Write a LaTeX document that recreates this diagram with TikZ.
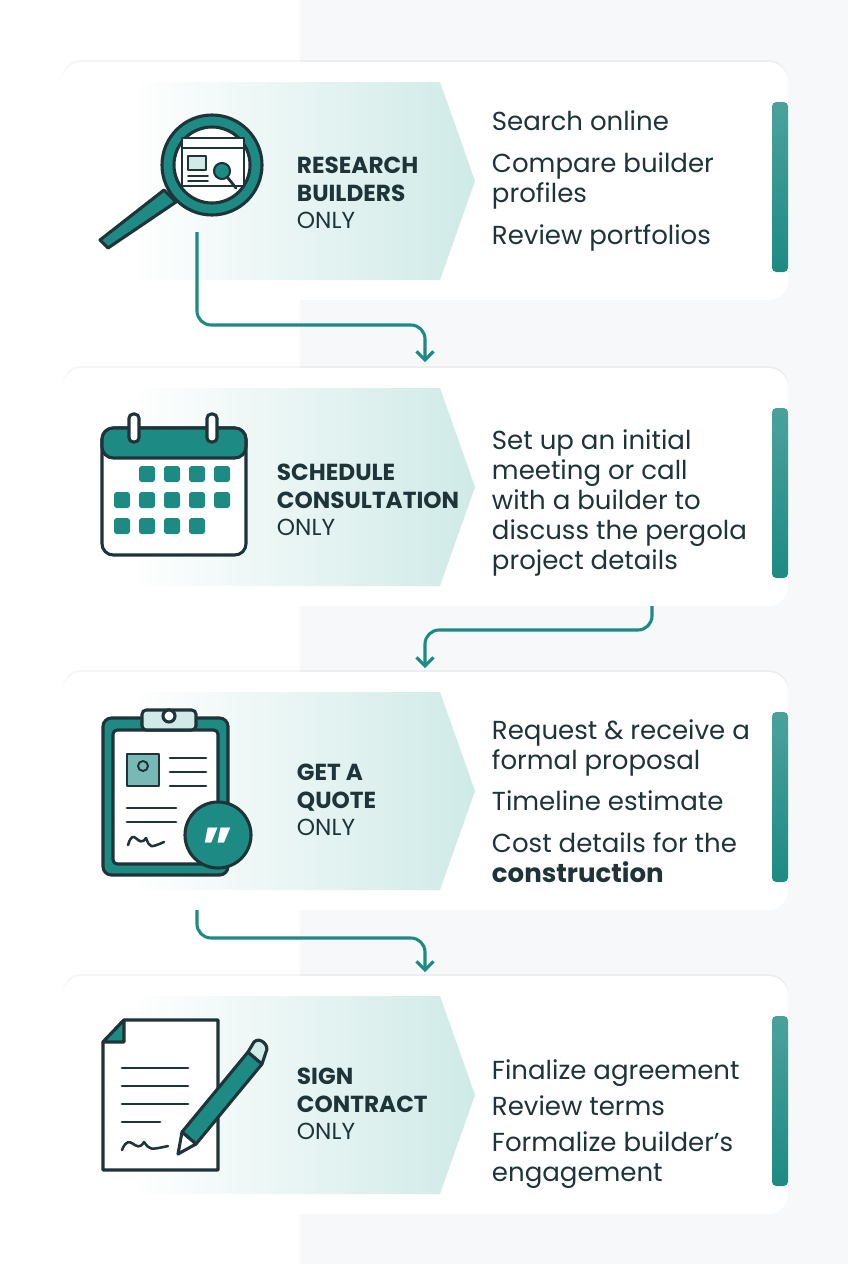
\documentclass[tikz,border=0pt]{standalone}
\usepackage{fontspec}
\setmainfont{Poppins}
\usepackage{xcolor}
\usetikzlibrary{positioning,calc,arrows.meta,shadows}
\definecolor{tealD}{HTML}{1E8A84}
\definecolor{tealL}{HTML}{CFEAE7}
\definecolor{ink}{HTML}{1E3438}
\definecolor{bgR}{HTML}{F6F8F9}
\tikzset{
  card/.style={fill=white, rounded corners=14, drop shadow={opacity=0.08, shadow xshift=0, shadow yshift=-2}},
  chev/.style={left color=white, right color=tealL, draw=none},
  bar/.style={top color=tealD!80, bottom color=tealD, rounded corners=3},
  title/.style={anchor=west, align=left, font=\fontsize{16.5}{19.5}\selectfont, text=ink},
  items/.style={anchor=west, align=left, font=\fontsize{18.5}{21.5}\selectfont, text=ink},
  flow/.style={draw=tealD, line width=2.2pt, rounded corners=10, -{Straight Barb[length=6pt,width=12pt]}},
  icon/.style={draw=ink, line width=2.2pt, line join=round, line cap=round}
}
\begin{document}
\begin{tikzpicture}[x=0.025cm, y=-0.025cm]
  \useasboundingbox (0,0) rectangle (848,1264);
  \fill[white] (0,0) rectangle (848,1264);
  \fill[bgR] (300,0) rectangle (848,1264);
  % cards
  \foreach \t in {62,368,672,976}{
    \path[card] (62,\t) rectangle (788,\t+238);
    \path[chev] (130,\t+20) -- (440,\t+20) -- (475,\t+119) -- (440,\t+218) -- (130,\t+218) -- cycle;
    \path[bar] (772,\t+40) rectangle (788,\t+210);
  }
  % titles
  \node[title] (t1) at (292,193) {\textbf{RESEARCH}\\\textbf{BUILDERS}\\ONLY};
  \node[title] (t2) at (272,500) {\textbf{SCHEDULE}\\\textbf{CONSULTATION}\\ONLY};
  \node[title] (t3) at (292,800) {\textbf{GET A}\\\textbf{QUOTE}\\ONLY};
  \node[title] (t4) at (292,1104) {\textbf{SIGN}\\\textbf{CONTRACT}\\ONLY};
  % items
  \node[items] (i1) at (487,181) {Search online\\[8pt]Compare builder\\profiles\\[8pt]Review portfolios};
  \node[items] (i2) at (487,503) {Set up an initial\\meeting or call\\with a builder to\\discuss the pergola\\project details};
  \node[items] (i3) at (487,801) {Request \& receive a\\formal proposal\\[8pt]Timeline estimate\\[8pt]Cost details for the\\\textbf{construction}};
  \node[items] (i4) at (487,1124) {Finalize agreement\\[4pt]Review terms\\[4pt]Formalize builder’s\\engagement};
  % icon 1: magnifier
  \draw[icon, fill=tealD] (176,202) -- (108,248) -- (100,240) -- (164,190) -- cycle;
  \draw[icon, fill=tealD] (212,165) circle (50);
  \draw[icon, fill=white] (212,165) circle (38);
  \draw[icon, line width=1.5pt, fill=white] (182,138) rectangle (244,186);
  \draw[icon, line width=1.5pt] (182,148) -- (244,148);
  \draw[icon, line width=1.5pt, fill=tealL] (188,156) rectangle (206,170);
  \foreach \yy in {176,181}{\draw[icon, line width=1.2pt] (188,\yy) -- (208,\yy);}
  \draw[icon, line width=2pt] (228,178) -- (236,188);
  \draw[icon, line width=1.5pt, fill=tealD] (222,171) circle (8);
  \coordinate (s1) at (197,232);
  % icon 2: calendar
  \draw[icon, fill=white, rounded corners=8] (102,428) rectangle (246,555);
  \draw[icon, fill=tealD, rounded corners=8] (102,428) -- (246,428) -- (246,458) -- (102,458) -- cycle;
  \foreach \xx in {134,212}{\draw[icon, fill=white, rounded corners=3] (\xx-5,414) rectangle (\xx+5,442);}
  \foreach \r/\cs in {0/{147,172,197,222},1/{122,147,172,197,222},2/{122,147,172,197}}{
    \foreach \xx in \cs {\fill[tealD, rounded corners=2] (\xx-8,474+\r*26-8) rectangle (\xx+8,474+\r*26+8);}
  }
  \coordinate (s2) at (652,606);
  % icon 3: clipboard
  \draw[icon, fill=tealD, rounded corners=6] (103,718) rectangle (228,875);
  \draw[icon, fill=white, rounded corners=3] (113,730) rectangle (218,864);
  \draw[icon, fill=tealL, rounded corners=3] (142,710) rectangle (196,730);
  \draw[icon, fill=white] (169,716) circle (6);
  \draw[icon, line width=1.6pt, fill=tealD!60] (127,754) rectangle (159,786);
  \draw[icon, line width=1.4pt] (143,766) circle (5);
  \foreach \yy in {758,772,786}{\draw[icon, line width=2pt] (170,\yy) -- (206,\yy);}
  \foreach \yy in {808,822}{\draw[icon, line width=2pt] (127,\yy) -- (176,\yy);}
  \draw[icon, line width=1.8pt] (128,845) .. controls (134,825) and (138,850) .. (146,838) .. controls (150,848) .. (164,842);
  \draw[icon, fill=tealD] (218,835) circle (33);
  \node[text=white, font=\bfseries\fontsize{40}{40}\selectfont] (q3) at (218,848) {”};
  \coordinate (s3) at (197,910);
  % icon 4: contract
  \draw[icon, fill=white] (124,1020) -- (218,1020) -- (218,1170) -- (103,1170) -- (103,1042) -- cycle;
  \draw[icon, fill=tealD] (103,1042) -- (124,1042) -- (124,1020) -- cycle;
  \foreach \yy in {1068,1086,1104}{\draw[icon, line width=2pt] (122,\yy) -- (188,\yy);}
  \draw[icon, line width=2pt] (122,1122) -- (160,1122);
  \draw[icon, line width=1.8pt] (122,1150) .. controls (130,1130) and (136,1156) .. (144,1142) .. controls (150,1150) .. (168,1146);
  \draw[icon, fill=tealD] (182,1132) -- (248,1052) -- (262,1064) -- (196,1144) -- cycle;
  \draw[icon, fill=white] (182,1132) -- (196,1144) -- (178,1154) -- cycle;
  \draw[icon, fill=tealL] (248,1052) -- (254,1042) .. controls (260,1036) and (270,1046) .. (266,1052) -- (262,1064) -- cycle;
  % connectors
  \coordinate (e1) at (425,362);
  \coordinate (e2) at (425,668);
  \coordinate (e3) at (425,972);
  \draw[flow] (s1) |- (310,325) -| (e1);
  \draw[flow] (s2) |- (530,630) -| (e2);
  \draw[flow] (s3) |- (310,938) -| (e3);
\end{tikzpicture}
\end{document}
